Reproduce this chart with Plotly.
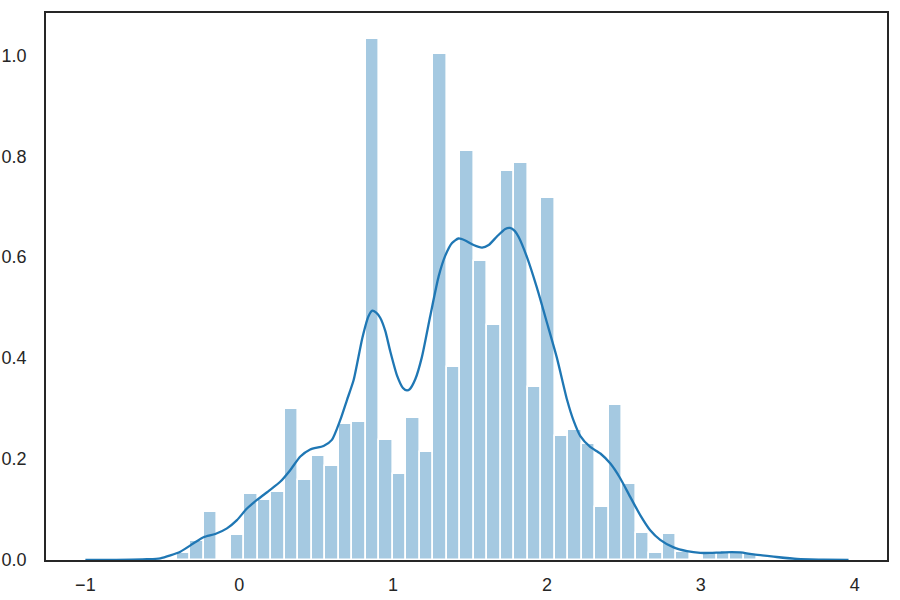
import numpy as np
import plotly.graph_objects as go

# Histogram (density) — 43 equal-width bins
bin_start = -0.406
bin_width = 0.08775
hist_density = [
    0.0145, 0.0376, 0.0957, 0.0, 0.049, 0.1307, 0.1195, 0.134, 0.300, 0.158,
    0.206, 0.186, 0.269, 0.274, 1.032, 0.238, 0.171, 0.281, 0.214, 1.002,
    0.383, 0.810, 0.593, 0.465, 0.771, 0.786, 0.343, 0.717, 0.245, 0.258,
    0.230, 0.106, 0.308, 0.151, 0.0528, 0.0132, 0.0515, 0.0168, 0.0, 0.0168,
    0.0168, 0.0168, 0.012,
]

# KDE curve
kde_x = [-1.0, -0.8, -0.6, -0.513, -0.383, -0.297, -0.232, -0.156, -0.080, -0.015,
         0.050, 0.115, 0.201, 0.266, 0.331, 0.397, 0.461, 0.548, 0.602, 0.656,
         0.700, 0.743, 0.800, 0.840, 0.865, 0.890, 0.916, 0.949, 0.981, 1.025,
         1.064, 1.090, 1.107, 1.144, 1.187, 1.241, 1.296, 1.339, 1.383, 1.425,
         1.469, 1.523, 1.578, 1.621, 1.675, 1.729, 1.760, 1.790, 1.816, 1.870,
         1.935, 2.000, 2.065, 2.130, 2.173, 2.216, 2.281, 2.347, 2.412, 2.476,
         2.541, 2.606, 2.671, 2.736, 2.823, 2.910, 2.996, 3.060, 3.126, 3.200,
         3.256, 3.343, 3.473, 3.625, 3.800, 3.960]
kde_y = [0.0, 0.0003, 0.0015, 0.0033, 0.0165, 0.033, 0.045, 0.0515, 0.0627, 0.079,
         0.102, 0.119, 0.139, 0.155, 0.178, 0.205, 0.219, 0.226, 0.238, 0.277,
         0.317, 0.356, 0.440, 0.483, 0.494, 0.490, 0.480, 0.454, 0.414, 0.366,
         0.341, 0.336, 0.338, 0.358, 0.402, 0.483, 0.562, 0.603, 0.628, 0.637,
         0.633, 0.624, 0.619, 0.624, 0.641, 0.656, 0.658, 0.652, 0.640, 0.600,
         0.539, 0.470, 0.400, 0.318, 0.276, 0.246, 0.224, 0.211, 0.191, 0.162,
         0.125, 0.089, 0.059, 0.040, 0.025, 0.0175, 0.0140, 0.0140, 0.0148, 0.0155,
         0.0150, 0.0110, 0.0066, 0.0020, 0.0005, 0.0]

x_ticks = [-1, 0, 1, 2, 3, 4]
x_tick_labels = ["\u22121", "0", "1", "2", "3", "4"]
y_ticks = [0.0, 0.2, 0.4, 0.6, 0.8, 1.0]
y_tick_labels = ["0.0", "0.2", "0.4", "0.6", "0.8", "1.0"]

centers = [bin_start + bin_width * (i + 0.5) for i in range(len(hist_density))]

fig = go.Figure()
fig.add_trace(go.Bar(
    x=centers, y=hist_density, width=[bin_width] * len(hist_density),
    marker=dict(color="rgba(31,119,180,0.4)", line=dict(color="white", width=1.6)),
    hoverinfo="skip",
))
fig.add_trace(go.Scatter(
    x=kde_x, y=kde_y, mode="lines",
    line=dict(color="#1f77b4", width=2.3, shape="spline", smoothing=0.6),
    hoverinfo="skip",
))

axis_common = dict(
    showgrid=False, zeroline=False, showline=True, mirror=True,
    linecolor="#262626", linewidth=1.7, automargin=False,
    ticks="outside", tickcolor="rgba(0,0,0,0)",
    tickfont=dict(family="Liberation Sans, Arial, sans-serif", size=18, color="#262626"),
)

fig.update_layout(
    width=900, height=600,
    margin=dict(l=46, r=13, t=13, b=40),
    paper_bgcolor="white", plot_bgcolor="white",
    showlegend=False, bargap=0,
    xaxis=dict(range=[-1.256, 4.21], tickvals=x_ticks, ticktext=x_tick_labels,
               ticklen=8, **axis_common),
    yaxis=dict(range=[0, 1.0838], tickvals=y_ticks, ticktext=y_tick_labels,
               ticklen=14, **axis_common),
)

fig.write_html("out.html")
